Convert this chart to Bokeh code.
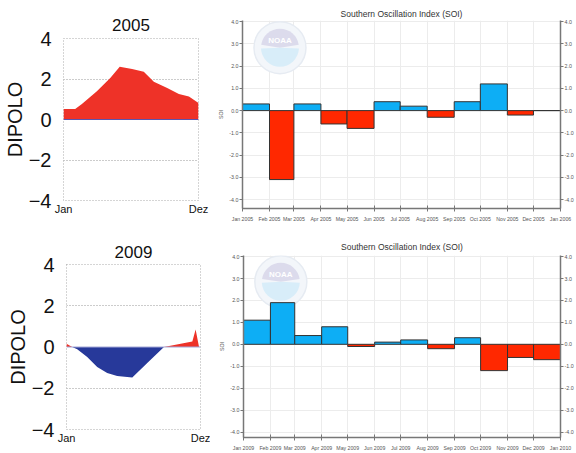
import numpy as np
import pandas as pd
from bokeh.plotting import figure
from bokeh.layouts import row, column
from bokeh.models import (Range1d, FixedTicker, PrintfTickFormatter, LinearAxis,
                          DatetimeTickFormatter, Span, Label)
from bokeh.embed import file_html
from bokeh.resources import INLINE

FONT = "Liberation Sans"

# ---------------- data ----------------
dip_tick_pos = [0, 11]
dip_tick_labels = ["Jan", "Dez"]
dip_y_ticks = [-4, -2, 0, 2, 4]

# DIPOLO 2005 (x in months since Jan)
dip2005_x = [0.0, 0.95, 1.5, 2.72, 3.81, 4.58, 5.59, 6.54, 7.36, 8.45, 9.4, 10.22, 11.0]
dip2005_y = [0.52, 0.52, 0.77, 1.4, 2.05, 2.6, 2.5, 2.36, 1.87, 1.56, 1.26, 1.13, 0.82]

# DIPOLO 2009
dip2009_x = [0.0, 0.47, 0.88, 1.7, 2.52, 3.34, 4.16, 5.4, 6.63, 8.0, 10.33, 10.6, 10.88]
dip2009_y = [0.16, 0.0, -0.11, -0.48, -0.97, -1.26, -1.4, -1.48, -0.77, 0.0, 0.27, 0.85, 0.0]

# SOI monthly values (first and last month are the clipped neighbours)
soi2005_first_month = "2004-12-01"
soi2005 = [-0.8, 0.3, -3.1, 0.3, -0.6, -0.8, 0.4, 0.2, -0.3, 0.4, 1.2, -0.2, 0.0, 1.7]
soi2009_first_month = "2008-12-01"
soi2009 = [1.4, 1.1, 1.9, 0.4, 0.8, -0.1, 0.1, 0.2, -0.2, 0.3, -1.2, -0.6, -0.7, -1.1]
soi_y_ticks = [-4, -3, -2, -1, 0, 1, 2, 3, 4]

SOI_TITLE = "Southern Oscillation Index (SOI)"
RED_DIP = "#EE3228"
BLUE_DIP = "#27399A"
SOI_BLUE = "#0DAEF5"
SOI_RED = "#FF2800"


def dipolo_fig(title, xs, ys, w, h, bl, br, bt, bb, title_standoff, zero_color):
    p = figure(width=w, height=h, x_range=Range1d(0, 11), y_range=Range1d(-4, 4),
               output_backend="svg", toolbar_location=None, frame_align=False,
               min_border_left=bl, min_border_right=br, min_border_top=bt, min_border_bottom=bb)
    p.title.text = title
    p.title.text_font = FONT
    p.title.text_font_size = "17px"
    p.title.text_font_style = "normal"
    p.title.align = "center"
    p.title.text_color = "#111111"
    p.title.standoff = title_standoff
    xs = np.array(xs)
    ys = np.array(ys)
    pos = np.maximum(ys, 0)
    neg = np.minimum(ys, 0)
    p.varea(x=xs, y1=np.zeros_like(xs), y2=pos, fill_color=RED_DIP)
    if neg.min() < 0:
        p.varea(x=xs, y1=neg, y2=np.zeros_like(xs), fill_color=BLUE_DIP)
    p.add_layout(Span(location=0, dimension="width", line_color=zero_color, line_width=1.2))

    p.outline_line_color = "#aaaaaa"
    p.outline_line_dash = "1 2"
    p.xgrid.grid_line_color = None
    p.ygrid.ticker = FixedTicker(ticks=[-2, 2])
    p.ygrid.grid_line_color = "#999999"
    p.ygrid.grid_line_dash = "1 2"

    ya = p.yaxis[0]
    ya.ticker = FixedTicker(ticks=dip_y_ticks)
    ya.major_label_text_font = FONT
    ya.major_label_text_font_size = "20px"
    ya.major_label_text_color = "#111111"
    ya.major_tick_line_color = None
    ya.major_tick_out = 0
    ya.major_tick_in = 0
    ya.minor_tick_line_color = None
    ya.axis_line_color = None
    ya.major_label_standoff = 12
    ya.axis_label = "DIPOLO"
    ya.axis_label_text_font = FONT
    ya.axis_label_text_font_size = "20px"
    ya.axis_label_text_font_style = "normal"
    ya.axis_label_text_color = "#111111"
    ya.axis_label_standoff = 0

    xa = p.xaxis[0]
    xa.ticker = FixedTicker(ticks=dip_tick_pos)
    xa.major_label_overrides = {t: l for t, l in zip(dip_tick_pos, dip_tick_labels)}
    xa.major_label_text_font = FONT
    xa.major_label_text_font_size = "11px"
    xa.major_label_text_color = "#111111"
    xa.major_tick_line_color = None
    xa.major_tick_out = 0
    xa.major_tick_in = 0
    xa.minor_tick_line_color = None
    xa.axis_line_color = None
    xa.major_label_standoff = 2
    return p


def soi_fig(first_month, vals, w, h, bl, br, bt, bb, ymin, title_standoff, logo_days, logo_y):
    n = len(vals)
    lefts = pd.date_range(first_month, periods=n, freq="MS")
    rights = pd.date_range(first_month, periods=n + 1, freq="MS")[1:]
    x0, x1 = lefts[1], lefts[-1]
    p = figure(width=w, height=h, x_axis_type="datetime",
               x_range=Range1d(x0, x1), y_range=Range1d(ymin, 4.05),
               output_backend="svg", toolbar_location=None, frame_align=False,
               min_border_left=bl, min_border_right=br, min_border_top=bt, min_border_bottom=bb)
    p.title.text = SOI_TITLE
    p.title.text_font = FONT
    p.title.text_font_size = "8.5px"
    p.title.text_font_style = "normal"
    p.title.align = "center"
    p.title.text_color = "#333333"
    p.title.standoff = title_standoff
    p.outline_line_color = None

    tick_dates = list(lefts[1:])
    ticks_ms = [float(t.value // 10**6) for t in tick_dates]

    # faint logo watermark
    lx = x0 + pd.Timedelta(days=logo_days)
    p.scatter(x=[lx], y=[logo_y], size=52, marker="circle",
              fill_color="#f3f6fa", line_color="#e6ebf2", line_width=1.5)
    p.wedge(x=[lx], y=[logo_y], radius=19, radius_units="screen",
            start_angle=0.15, end_angle=np.pi - 0.15, fill_color="#dcdbec", line_color=None)
    p.wedge(x=[lx], y=[logo_y], radius=19, radius_units="screen",
            start_angle=np.pi + 0.05, end_angle=2 * np.pi - 0.05, fill_color="#d8edf9", line_color=None)
    p.add_layout(Label(x=lx, y=logo_y, text="NOAA", text_font=FONT, text_font_size="8px",
                       text_font_style="bold", text_color="#ffffff", text_align="center",
                       text_baseline="bottom", y_offset=3))

    vals = np.array(vals)
    colors = [SOI_BLUE if v > 0 else SOI_RED for v in vals]
    p.quad(left=lefts, right=rights, top=np.maximum(vals, 0), bottom=np.minimum(vals, 0),
           fill_color=colors, line_color="#333333", line_width=1)

    p.xgrid.ticker = FixedTicker(ticks=ticks_ms)
    p.xgrid.grid_line_color = "#ececec"
    p.ygrid.ticker = FixedTicker(ticks=soi_y_ticks)
    p.ygrid.grid_line_color = "#ececec"

    fmt = PrintfTickFormatter(format="%.1f")
    axes = [p.yaxis[0]]
    ra = LinearAxis()
    p.add_layout(ra, "right")
    axes.append(ra)
    for ax in axes:
        ax.ticker = FixedTicker(ticks=soi_y_ticks)
        ax.formatter = fmt
        ax.major_label_text_font = FONT
        ax.major_label_text_font_size = "5.3px"
        ax.major_label_text_color = "#555555"
        ax.major_tick_line_color = "#777777"
        ax.major_tick_out = 3
        ax.major_tick_in = 0
        ax.minor_tick_line_color = None
        ax.axis_line_color = "#777777"
        ax.axis_line_width = 1.5
        ax.major_label_standoff = 1
    p.yaxis[0].axis_label = "SOI"
    p.yaxis[0].axis_label_text_font = FONT
    p.yaxis[0].axis_label_text_font_size = "5.3px"
    p.yaxis[0].axis_label_text_font_style = "normal"
    p.yaxis[0].axis_label_text_color = "#555555"
    p.yaxis[0].axis_label_standoff = 2

    xa = p.xaxis[0]
    xa.ticker = FixedTicker(ticks=ticks_ms)
    xa.formatter = DatetimeTickFormatter(days="%b %Y", months="%b %Y", years="%b %Y",
                                         hours="%b %Y", hourmin="%b %Y")
    xa.major_label_text_font = FONT
    xa.major_label_text_font_size = "5.2px"
    xa.major_label_text_color = "#555555"
    xa.major_tick_line_color = "#777777"
    xa.major_tick_out = 3
    xa.major_tick_in = 3
    xa.minor_tick_line_color = None
    xa.axis_line_color = "#777777"
    xa.axis_line_width = 1.5
    xa.major_label_standoff = 4
    return p


tl = dipolo_fig("2005", dip2005_x, dip2005_y, 210, 225, 63, 12, 38, 25, 15, "#5a55b0")
bl = dipolo_fig("2009", dip2009_x, dip2009_y, 210, 228, 66, 10, 39, 24, 13, "#a3a8d8")
tr = soi_fig(soi2005_first_month, soi2005, 366, 225, 32, 14, 20, 17, -4.4, 4, 43, 2.83)
br = soi_fig(soi2009_first_month, soi2009, 366, 228, 33, 13, 30, 13, -4.25, 8, 43, 2.85)

layout = column(row(tl, tr), row(bl, br))
open("out.html", "w").write(file_html(layout, INLINE))
